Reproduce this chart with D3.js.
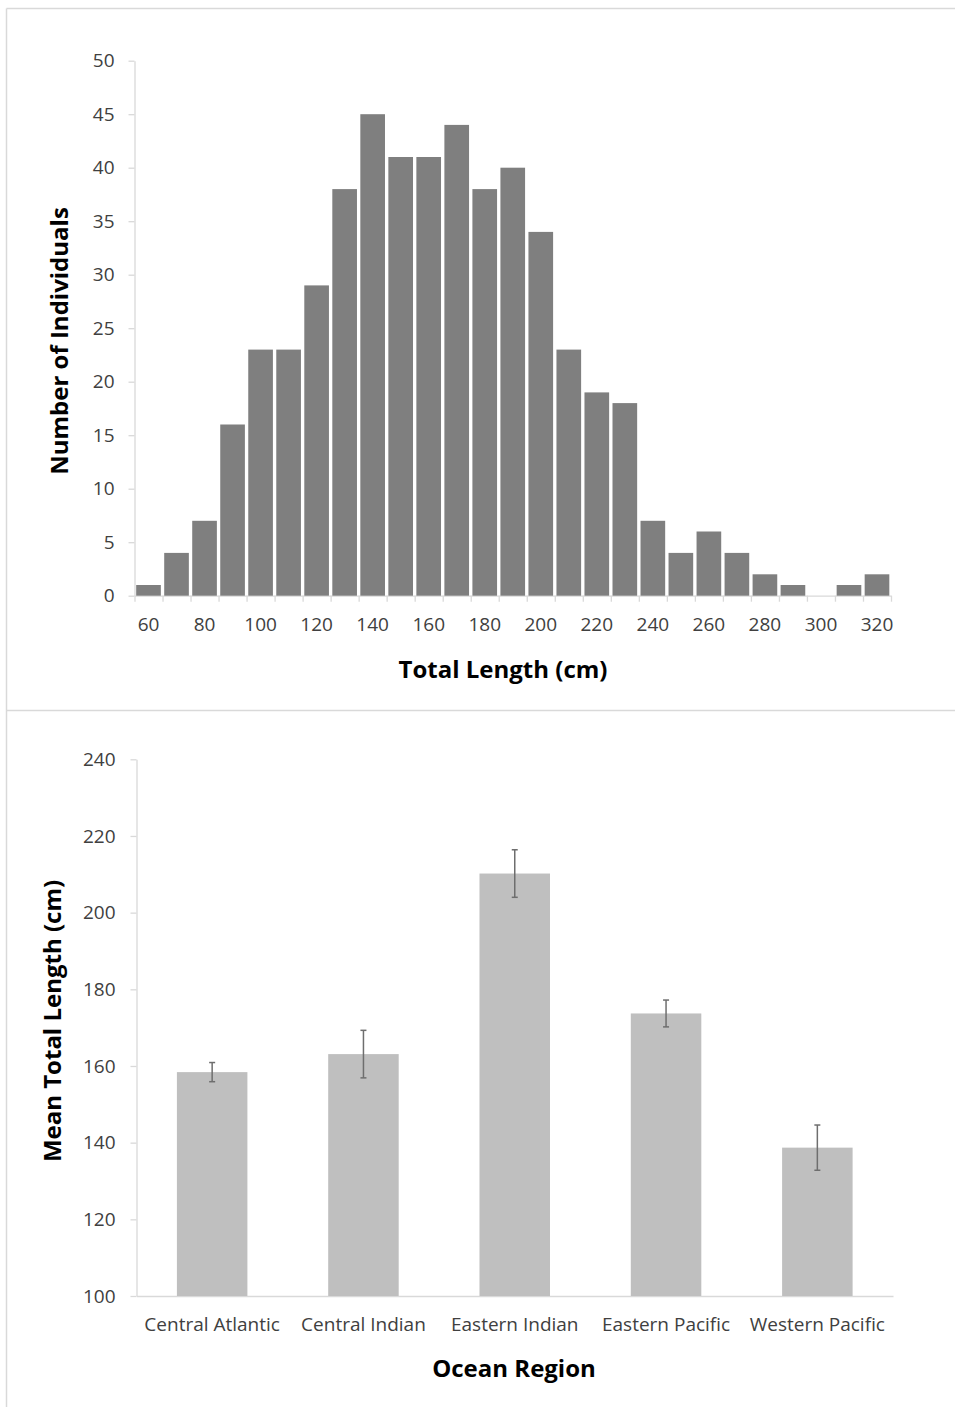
<!DOCTYPE html>
<html>
<head>
<meta charset="utf-8">
<script src="https://cdn.jsdelivr.net/npm/d3@7"></script>
<style>
  body { margin: 0; background: #fff; }
  text { font-family: "Open Sans", sans-serif; }
</style>
</head>
<body>
<div id="chart"></div>
<script>
// histogram: bin centres (cm) and counts
const lengthBins = [60, 70, 80, 90, 100, 110, 120, 130, 140, 150, 160, 170, 180, 190,
                    200, 210, 220, 230, 240, 250, 260, 270, 280, 290, 300, 310, 320];
const binCounts = [1, 4, 7, 16, 23, 23, 29, 38, 45, 41, 41, 44, 38, 40,
                   34, 23, 19, 18, 7, 4, 6, 4, 2, 1, 0, 1, 2];
const lengthLabels = [60, 80, 100, 120, 140, 160, 180, 200, 220, 240, 260, 280, 300, 320];
const countTicks = [0, 5, 10, 15, 20, 25, 30, 35, 40, 45, 50];

// mean length per region with error
const regions = ["Central Atlantic", "Central Indian", "Eastern Indian", "Eastern Pacific", "Western Pacific"];
const meanLength = [158.4, 163.1, 210.2, 173.7, 138.7];
const lengthError = [2.5, 6.2, 6.2, 3.5, 5.9];
const meanTicks = [100, 120, 140, 160, 180, 200, 220, 240];

const W = 955, H = 1407;
const axisColor = "#d9d9d9", tickText = "#404040";

const svg = d3.select("#chart").append("svg")
    .attr("width", W).attr("height", H);

// panel frame lines
svg.append("g").attr("stroke", axisColor).attr("stroke-width", 1.5)
  .selectAll("line")
  .data([[6.5, 8.5, W, 8.5], [6.5, 8.5, 6.5, H], [6.5, 710.5, W, 710.5]])
  .join("line")
    .attr("x1", d => d[0]).attr("y1", d => d[1])
    .attr("x2", d => d[2]).attr("y2", d => d[3]);

function styleAxis(g) {
    g.selectAll("path, line").attr("stroke", axisColor).attr("stroke-width", 1.3);
    g.selectAll("text").attr("fill", tickText).attr("font-size", 19);
}

// ---------- top: histogram ----------
const x = d3.scaleBand()
    .domain(lengthBins)
    .range([134.5, 891])
    .paddingInner(0.12)
    .paddingOuter(0.06);
const xEdges = d3.scaleLinear().domain([55, 325]).range([134.5, 891]);
const y = d3.scaleLinear().domain([0, 50]).range([595.7, 60.7]);

svg.append("g")
    .attr("transform", "translate(134.5,0)")
    .call(d3.axisLeft(y).tickValues(countTicks).tickSize(6).tickSizeOuter(0).tickPadding(14))
    .call(styleAxis);

svg.append("g")
    .attr("transform", "translate(0,595.7)")
    .call(d3.axisBottom(xEdges).tickValues(d3.range(55, 326, 10)).tickFormat("").tickSize(6).tickSizeOuter(0))
    .call(styleAxis);

svg.append("g")
    .attr("transform", "translate(0,595.7)")
    .call(d3.axisBottom(x).tickValues(lengthLabels).tickSize(0).tickPadding(22))
    .call(g => g.select(".domain").remove())
    .call(styleAxis);

svg.append("g")
    .attr("fill", "#7f7f7f")
  .selectAll("rect")
  .data(lengthBins)
  .join("rect")
    .attr("x", d => x(d))
    .attr("width", x.bandwidth())
    .attr("y", (d, i) => y(binCounts[i]))
    .attr("height", (d, i) => y(0) - y(binCounts[i]));

svg.append("text")
    .attr("x", 503).attr("y", 678)
    .attr("text-anchor", "middle")
    .attr("font-size", 24).attr("font-weight", "bold")
    .text("Total Length (cm)");

svg.append("text")
    .attr("transform", "translate(68,341) rotate(-90)")
    .attr("text-anchor", "middle")
    .attr("font-size", 24).attr("font-weight", "bold")
    .text("Number of Individuals");

// ---------- bottom: mean length by region ----------
const xb = d3.scaleBand()
    .domain(regions)
    .range([136.5, 893])
    .paddingInner(0.534)
    .paddingOuter(0.267);
const yb = d3.scaleLinear().domain([100, 240]).range([1296, 759.3]);

svg.append("g")
    .attr("transform", "translate(136.5,0)")
    .call(d3.axisLeft(yb).tickValues(meanTicks).tickSize(6).tickSizeOuter(0).tickPadding(15))
    .call(styleAxis);

svg.append("g")
    .attr("transform", "translate(0,1296)")
    .call(d3.axisBottom(xb).tickSize(0).tickSizeOuter(0).tickPadding(22))
    .call(styleAxis);

svg.append("g")
    .attr("fill", "#bfbfbf")
  .selectAll("rect")
  .data(regions)
  .join("rect")
    .attr("x", d => xb(d))
    .attr("width", xb.bandwidth())
    .attr("y", (d, i) => yb(meanLength[i]))
    .attr("height", (d, i) => yb(100) - yb(meanLength[i]));

// error bars
const eb = svg.append("g")
    .attr("stroke", "#6e6e6e").attr("stroke-width", 1.5)
  .selectAll("g")
  .data(regions)
  .join("g")
    .attr("transform", d => `translate(${xb(d) + xb.bandwidth() / 2},0)`);
eb.append("line")
    .attr("y1", (d, i) => yb(meanLength[i] + lengthError[i]))
    .attr("y2", (d, i) => yb(meanLength[i] - lengthError[i]));
eb.append("line")
    .attr("x1", -3).attr("x2", 3)
    .attr("y1", (d, i) => yb(meanLength[i] + lengthError[i]))
    .attr("y2", (d, i) => yb(meanLength[i] + lengthError[i]));
eb.append("line")
    .attr("x1", -3).attr("x2", 3)
    .attr("y1", (d, i) => yb(meanLength[i] - lengthError[i]))
    .attr("y2", (d, i) => yb(meanLength[i] - lengthError[i]));

svg.append("text")
    .attr("x", 514).attr("y", 1377)
    .attr("text-anchor", "middle")
    .attr("font-size", 24).attr("font-weight", "bold")
    .text("Ocean Region");

svg.append("text")
    .attr("transform", "translate(61,1021) rotate(-90)")
    .attr("text-anchor", "middle")
    .attr("font-size", 24).attr("font-weight", "bold")
    .text("Mean Total Length (cm)");
</script>
</body>
</html>
